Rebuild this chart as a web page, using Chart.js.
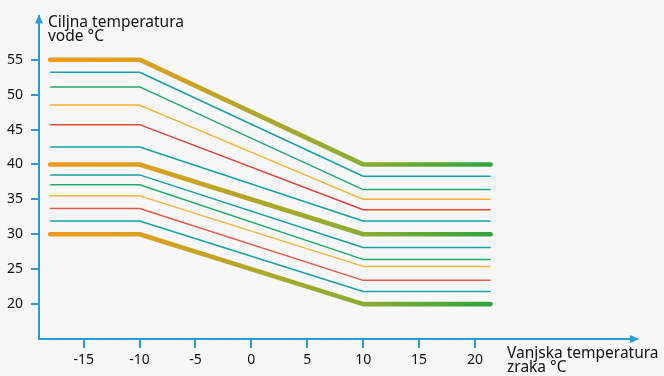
<!DOCTYPE html>
<html>
<head>
<meta charset="utf-8">
<script src="https://cdn.jsdelivr.net/npm/chart.js@4"></script>
<style>
  html, body { margin: 0; padding: 0; background: #f7f7f7; }
  #wrap { width: 664px; height: 376px; position: relative; }
</style>
</head>
<body>
<div id="wrap"><canvas id="grafico"></canvas></div>
<script>
// vanjska temperatura (x) - tocke loma krivulja
const xTocke = [-18, -10, 10, 21.4]
const xTicks = [-15, -10, -5, 0, 5, 10, 15, 20]
const yTicks = [20, 25, 30, 35, 40, 45, 50, 55]

// debele krivulje
const debeleLijevo = [55, 40, 30]
const debeleDesno  = [40, 30, 20]

// tanke krivulje (gornja i donja grupa)
const tankeLijevo = [53.2, 51.1, 48.5, 45.7, 42.5, 38.5, 37.1, 35.5, 33.7, 31.9]
const tankeDesno  = [38.3, 36.4, 35.0, 33.5, 31.9, 28.1, 26.4, 25.4, 23.4, 21.8]
const tankeBoje   = ['#17a0a3', '#22ab6e', '#f6b12f', '#e0443a', '#17a0a3',
                     '#17a0a3', '#22ab6e', '#f5b540', '#e25a48', '#1aa2a2']

const naslovY = ['Ciljna temperatura', 'vode °C']
const naslovX = ['Vanjska temperatura', 'zraka °C']

const plava = '#2b9ad6'
const font  = '"Noto Sans", sans-serif'

function krivulja(lijevo, desno) {
    return [
        { x: xTocke[0], y: lijevo },
        { x: xTocke[1], y: lijevo },
        { x: xTocke[2], y: desno },
        { x: xTocke[3], y: desno }
    ]
}

function gradijent(context) {
    const chart = context.chart
    const area = chart.chartArea
    if (!area) return '#d4a020'
    const sx = chart.scales.x
    const x0 = sx.getPixelForValue(xTocke[0])
    const x1 = sx.getPixelForValue(xTocke[3])
    const g = chart.ctx.createLinearGradient(x0, 0, x1, 0)
    g.addColorStop(0, '#ee9a1a')
    g.addColorStop(0.22, '#daa020')
    g.addColorStop(0.5, '#aaa82a')
    g.addColorStop(0.72, '#88ad34')
    g.addColorStop(1, '#2ea43c')
    return g
}

const datasets = []
tankeLijevo.forEach((v, i) => {
    datasets.push({ data: krivulja(v, tankeDesno[i]), borderColor: tankeBoje[i], borderWidth: 1.5 })
})
debeleLijevo.forEach((v, i) => {
    datasets.push({ data: krivulja(v, debeleDesno[i]), borderColor: gradijent, borderWidth: 4.6, borderCapStyle: 'round' })
})

const strelice = {
    id: 'strelice',
    afterDraw(chart) {
        const ctx = chart.ctx
        const a = chart.chartArea
        ctx.save()
        ctx.fillStyle = plava
        // y strelica
        ctx.beginPath()
        ctx.moveTo(a.left, a.top - 2)
        ctx.lineTo(a.left - 4, a.top + 7)
        ctx.lineTo(a.left + 4, a.top + 7)
        ctx.closePath()
        ctx.fill()
        // x strelica
        ctx.beginPath()
        ctx.moveTo(a.right + 2, a.bottom)
        ctx.lineTo(a.right - 7, a.bottom - 4)
        ctx.lineTo(a.right - 7, a.bottom + 4)
        ctx.closePath()
        ctx.fill()

        ctx.fillStyle = '#111'
        ctx.font = '15.5px ' + font
        ctx.textAlign = 'left'
        ctx.textBaseline = 'alphabetic'
        ctx.fillText(naslovY[0], 48, 27)
        ctx.fillText(naslovY[1], 48, 40.5)
        ctx.fillText(naslovX[0], 507, 358)
        ctx.fillText(naslovX[1], 507, 372)
        ctx.restore()
    }
}

new Chart(document.getElementById('grafico'), {
    type: 'line',
    data: { datasets: datasets },
    options: {
        responsive: true,
        maintainAspectRatio: false,
        animation: false,
        layout: { padding: { top: 14, right: 27, left: 0, bottom: 0 } },
        elements: { point: { radius: 0 }, line: { tension: 0, borderJoinStyle: 'round' } },
        plugins: { legend: { display: false }, tooltip: { enabled: false } },
        scales: {
            x: {
                type: 'linear', min: -19, max: 34.5,
                afterBuildTicks: s => { s.ticks = xTicks.map(v => ({ value: v })) },
                afterFit: s => { s.height = 37 },
                border: { color: plava, width: 2 },
                grid: { drawOnChartArea: false, color: plava, lineWidth: 2, tickLength: 9 },
                ticks: { color: '#111', font: { family: font, size: 14 }, padding: 4, maxRotation: 0 }
            },
            y: {
                type: 'linear', min: 15, max: 61.2,
                afterBuildTicks: s => { s.ticks = yTicks.map(v => ({ value: v })) },
                afterFit: s => { s.width = 39 },
                border: { color: plava, width: 2 },
                grid: { drawOnChartArea: false, color: plava, lineWidth: 2, tickLength: 8 },
                ticks: { color: '#111', font: { family: font, size: 14 }, padding: 8 }
            }
        }
    },
    plugins: [strelice]
})
</script>
</body>
</html>
